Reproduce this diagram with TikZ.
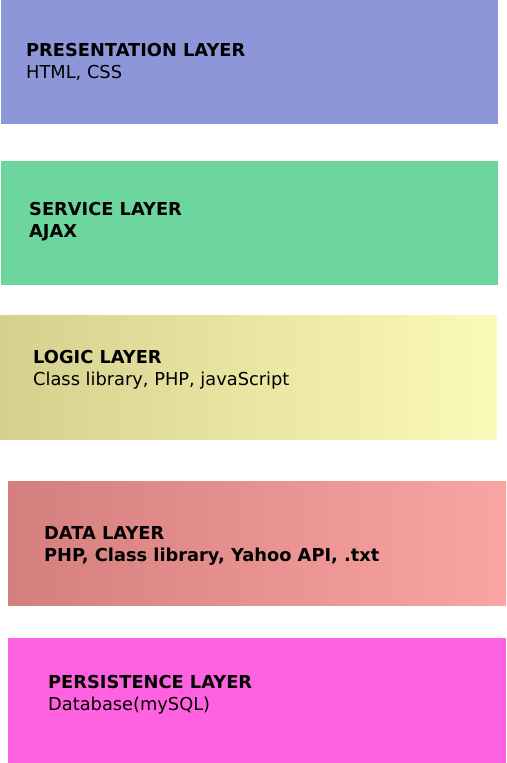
\documentclass[tikz,border=0pt]{standalone}
\usepackage{fontspec}
\setmainfont{DejaVu Sans}
\usepackage{xcolor}
\usetikzlibrary{positioning}
\definecolor{presblue}{HTML}{8C96D8}
\definecolor{servgreen}{HTML}{6CD69E}
\definecolor{logicL}{HTML}{D6D08E}
\definecolor{logicR}{HTML}{FCFAB8}
\definecolor{dataL}{HTML}{D47E7E}
\definecolor{dataR}{HTML}{FAA4A4}
\definecolor{perspink}{HTML}{FF62E0}
\tikzset{
  layerbox/.style={anchor=north west, inner sep=0pt, minimum width=497pt, minimum height=124pt},
  layertext/.style={anchor=north west, inner sep=0pt, align=left, font=\fontsize{17.8}{22}\selectfont},
}

\begin{document}
\begin{tikzpicture}[x=1pt, y=1pt]
    \useasboundingbox (0,0) rectangle (506,-763);

    % Presentation
    \node[layerbox, fill=presblue] (pres) at (1,0) {};
    \node[layertext] (prestxt) at (26,-43) {\textbf{PRESENTATION LAYER}\\HTML, CSS};

    % Service
    \node[layerbox, fill=servgreen] (serv) at (1,-161) {};
    \node[layertext] (servtxt) at (29,-202) {\textbf{SERVICE LAYER}\\\textbf{AJAX}};

    % Logic
    \node[layerbox, left color=logicL, right color=logicR] (logic) at (0,-315) {};
    \node[layertext] (logictxt) at (33,-350) {\textbf{LOGIC LAYER}\\Class library, PHP, javaScript};

    % Data
    \node[layerbox, minimum width=498pt, left color=dataL, right color=dataR] (data) at (8,-481) {};
    \node[layertext] (datatxt) at (44,-526) {\textbf{DATA LAYER}\\\textbf{PHP, Class library, Yahoo API, .txt}};

    % Persistence
    \node[layerbox, minimum width=498pt, minimum height=125pt, fill=perspink] (pers) at (8,-638) {};
    \node[layertext] (perstxt) at (48,-675) {\textbf{PERSISTENCE LAYER}\\Database(mySQL)};
\end{tikzpicture}
\end{document}
